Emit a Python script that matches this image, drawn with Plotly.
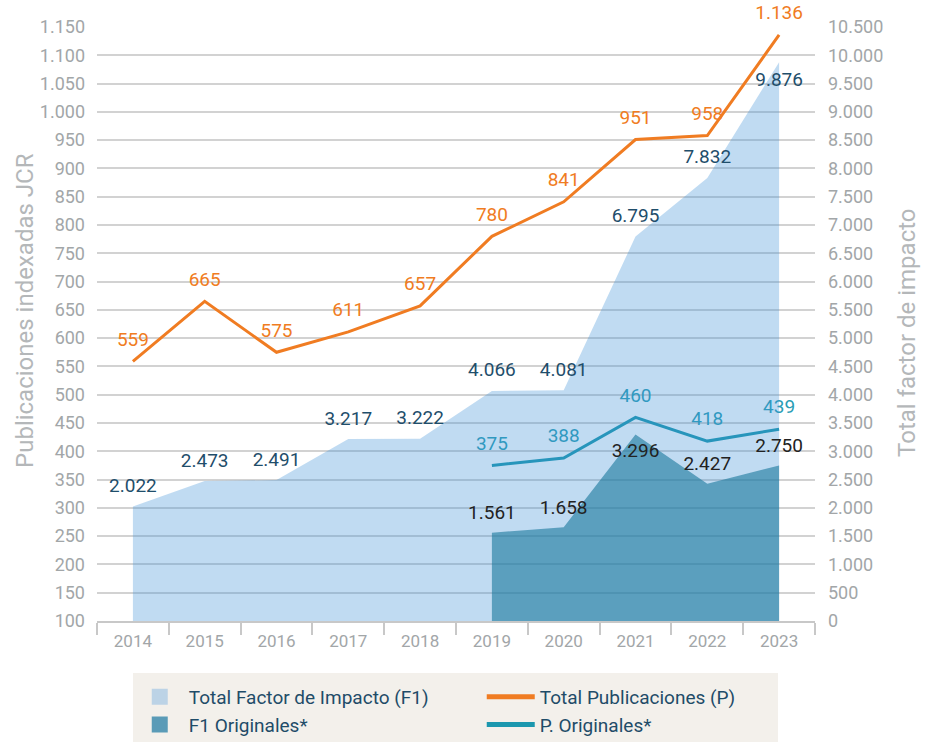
import plotly.graph_objects as go

years = ["2014", "2015", "2016", "2017", "2018", "2019", "2020", "2021", "2022", "2023"]
total_fi = [2022, 2473, 2491, 3217, 3222, 4066, 4081, 6795, 7832, 9876]
f1_orig_years = ["2019", "2020", "2021", "2022", "2023"]
f1_orig = [1561, 1658, 3296, 2427, 2750]
total_pub = [559, 665, 575, 611, 657, 780, 841, 951, 958, 1136]
p_orig = [375, 388, 460, 418, 439]

left_ticks = list(range(100, 1151, 50))
right_ticks = list(range(0, 10501, 500))


def es(v):
    return f"{v:,}".replace(",", ".")


FONT = "Roboto, sans-serif"
TICK_COL = "#a2a6a8"
TITLE_COL = "#b4b7b9"
LEG_COL = "#1f4c68"
CLEAR = "rgba(0,0,0,0)"

fig = go.Figure()

fig.add_trace(go.Scatter(
    x=years, y=total_fi, yaxis="y2", mode="lines+markers+text", fill="tozeroy",
    fillcolor="rgba(64,145,215,0.33)", line=dict(width=0, color=CLEAR),
    marker=dict(size=14, color=CLEAR),
    text=[es(v) for v in total_fi],
    textposition=["top center"] * 9 + ["bottom center"],
    textfont=dict(family=FONT, size=19, color="#1f4e6b"),
    showlegend=False, hoverinfo="skip", cliponaxis=False,
))
fig.add_trace(go.Scatter(
    x=f1_orig_years, y=f1_orig, yaxis="y2", mode="lines+markers+text", fill="tozeroy",
    fillcolor="rgba(24,119,155,0.6)", line=dict(width=0, color=CLEAR),
    marker=dict(size=12, color=CLEAR),
    text=[es(v) for v in f1_orig],
    textposition=["top center", "top center", "bottom center", "top center", "top center"],
    textfont=dict(family=FONT, size=19, color="#222222"),
    showlegend=False, hoverinfo="skip", cliponaxis=False,
))
fig.add_trace(go.Scatter(
    x=years, y=total_pub, mode="lines+markers+text",
    line=dict(width=3, color="#f07c22"), marker=dict(size=16, color=CLEAR),
    text=[es(v) for v in total_pub], textposition="top center",
    textfont=dict(family=FONT, size=19, color="#f07c22"),
    showlegend=False, cliponaxis=False,
))
fig.add_trace(go.Scatter(
    x=f1_orig_years, y=p_orig, mode="lines+markers+text",
    line=dict(width=3, color="#1b97ae"), marker=dict(size=16, color=CLEAR),
    text=[es(v) for v in p_orig], textposition="top center",
    textfont=dict(family=FONT, size=19, color="#2a9db5"),
    showlegend=False, cliponaxis=False,
))

# legend entries
fig.add_trace(go.Scatter(x=[None], y=[None], mode="markers", name="Total Factor de Impacto (F1)",
                         marker=dict(symbol="square", size=16, color="#bcd3e6")))
fig.add_trace(go.Scatter(x=[None], y=[None], mode="lines", name="Total Publicaciones (P)",
                         line=dict(width=5, color="#f07c22")))
fig.add_trace(go.Scatter(x=[None], y=[None], mode="markers", name="F1 Originales*",
                         marker=dict(symbol="square", size=16, color="#5a9bb7")))
fig.add_trace(go.Scatter(x=[None], y=[None], mode="lines", name="P. Originales*",
                         line=dict(width=5, color="#1b97ae")))

fig.update_layout(
    width=925, height=742,
    margin=dict(l=97, r=110, t=27, b=121, autoexpand=False),
    plot_bgcolor="white", paper_bgcolor="white",
    font=dict(family=FONT, size=18, color=TICK_COL),
    xaxis=dict(
        type="category", categoryarray=years, range=[-0.5, 9.5], automargin=False,
        showgrid=False, showline=True, linecolor="#c8c8c8", linewidth=1.5,
        ticks="outside", tickson="boundaries", ticklen=12, tickcolor="#c8c8c8", tickwidth=1.5,
        ticklabelstandoff=4,
        tickfont=dict(family=FONT, size=17, color=TICK_COL),
    ),
    yaxis=dict(
        range=[100, 1150], tickvals=left_ticks, ticktext=[es(v) for v in left_ticks],
        showgrid=True, gridcolor="#d2d2d2", gridwidth=1.5, zeroline=False, showline=False,
        ticks="", ticklabelstandoff=11, automargin=False,
        tickfont=dict(family=FONT, size=18, color=TICK_COL),
    ),
    yaxis2=dict(
        range=[0, 10500], overlaying="y", side="right", automargin=False,
        tickvals=right_ticks, ticktext=[es(v) for v in right_ticks],
        showgrid=False, zeroline=False, showline=False, ticks="", ticklabelstandoff=12,
        tickfont=dict(family=FONT, size=18, color=TICK_COL),
    ),
    annotations=[
        dict(text="Publicaciones indexadas JCR", xref="paper", yref="paper", x=-0.1003, y=0.5236,
             textangle=-90, showarrow=False, xanchor="center", yanchor="middle",
             font=dict(family=FONT, size=24, color=TITLE_COL)),
        dict(text="Total factor de impacto", xref="paper", yref="paper", x=1.1281, y=0.485,
             textangle=-90, showarrow=False, xanchor="center", yanchor="middle",
             font=dict(family=FONT, size=24, color=TITLE_COL)),
    ],
    legend=dict(
        orientation="h", x=0.047, y=-0.096, xanchor="left", yanchor="top",
        bgcolor="rgba(0,0,0,0)", font=dict(family=FONT, size=19, color=LEG_COL),
        itemwidth=48,
        entrywidth=288, entrywidthmode="pixels", traceorder="normal", tracegroupgap=0,
    ),
    shapes=[dict(type="rect", xref="paper", yref="paper", x0=0.0501, x1=0.9485, y0=-0.22, y1=-0.0875,
                 fillcolor="#f3f0eb", line=dict(width=0), layer="below")],
    showlegend=True,
)

fig.write_html(
    "out.html",
    config={"displayModeBar": False},
    post_script="document.body.style.margin='0';document.body.style.overflow='hidden';",
)
